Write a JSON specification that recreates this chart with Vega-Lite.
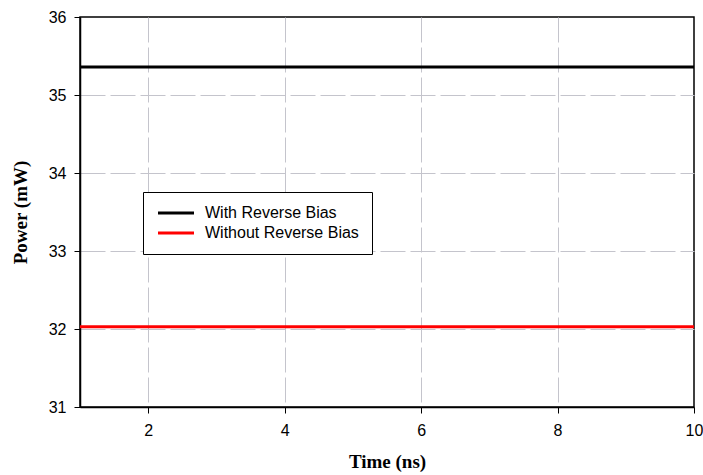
{
  "$schema": "https://vega.github.io/schema/vega-lite/v6.json",
  "width": 614,
  "height": 390,
  "autosize": {"type": "none"},
  "padding": {"left": 80, "top": 17, "right": 9, "bottom": 68},
  "background": "white",
  "config": {
    "view": {"stroke": "black", "strokeWidth": 1.5},
    "font": "Liberation Sans"
  },
  "data": {
    "values": [
      {"time": 1, "power": 35.36, "series": "With Reverse Bias"},
      {"time": 10, "power": 35.36, "series": "With Reverse Bias"},
      {"time": 1, "power": 32.03, "series": "Without Reverse Bias"},
      {"time": 10, "power": 32.03, "series": "Without Reverse Bias"}
    ]
  },
  "mark": {"type": "line", "strokeWidth": 3},
  "encoding": {
    "x": {
      "field": "time", "type": "quantitative",
      "scale": {"domain": [1, 10], "nice": false, "zero": false},
      "axis": {
        "values": [2, 4, 6, 8, 10],
        "title": "Time (ns)",
        "titleFont": "Liberation Serif", "titleFontSize": 19, "titleFontWeight": "bold",
        "titlePadding": 14,
        "labelFont": "Liberation Sans", "labelFontSize": 16, "labelColor": "black",
        "labelPadding": 9, "tickSize": 6, "tickColor": "black",
        "domainColor": "black", "domainWidth": 1.5,
        "grid": true, "gridColor": "#c4c4cc", "gridDash": [25, 5], "gridWidth": 1,
        "gridOpacity": {"condition": {"test": "datum.value == 10", "value": 0}, "value": 1},
        "labelFlush": false
      }
    },
    "y": {
      "field": "power", "type": "quantitative",
      "scale": {"domain": [31, 36], "nice": false, "zero": false},
      "axis": {
        "values": [31, 32, 33, 34, 35, 36],
        "title": "Power (mW)",
        "titleFont": "Liberation Serif", "titleFontSize": 19, "titleFontWeight": "bold",
        "titlePadding": 18,
        "labelFont": "Liberation Sans", "labelFontSize": 16, "labelColor": "black",
        "labelPadding": 8, "tickSize": 6, "tickColor": "black",
        "domainColor": "black", "domainWidth": 1.5,
        "grid": true, "gridColor": "#c4c4cc", "gridDash": [25, 5], "gridWidth": 1,
        "gridOpacity": {"condition": {"test": "datum.value == 31 || datum.value == 36", "value": 0}, "value": 1}
      }
    },
    "color": {
      "field": "series", "type": "nominal",
      "scale": {"domain": ["With Reverse Bias", "Without Reverse Bias"], "range": ["black", "red"]},
      "legend": {
        "title": null,
        "orient": "none",
        "legendX": 63,
        "legendY": 175,
        "fillColor": "white",
        "strokeColor": "black",
        "padding": 13,
        "symbolType": "M-1,0H5",
        "symbolSize": 144,
        "symbolStrokeWidth": 3,
        "labelFont": "Liberation Sans",
        "labelFontSize": 16,
        "labelColor": "black",
        "labelOffset": 33,
        "rowPadding": 4
      }
    }
  }
}
